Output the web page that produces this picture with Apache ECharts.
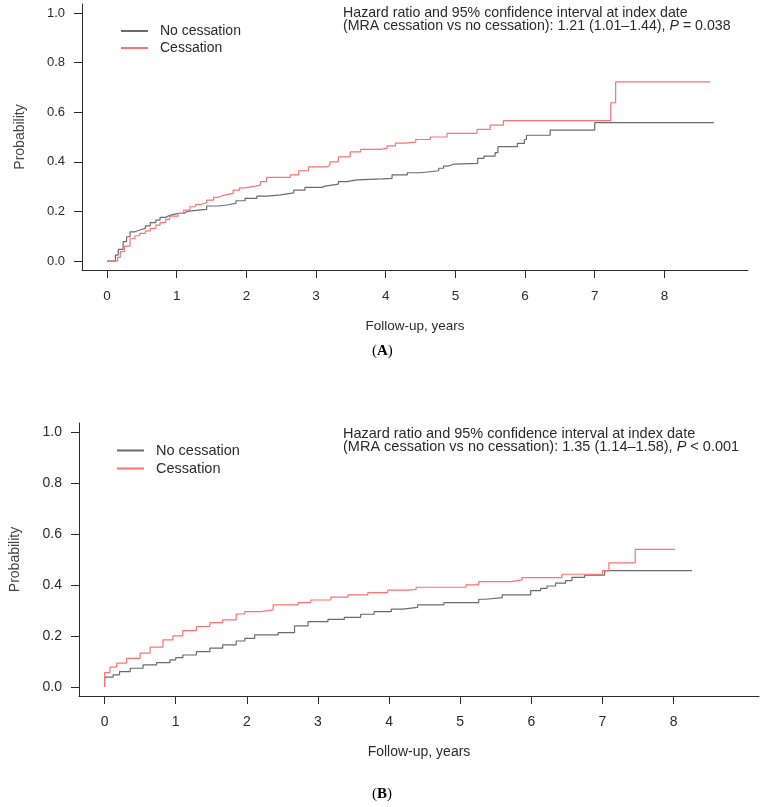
<!DOCTYPE html>
<html>
<head>
<meta charset="utf-8">
<title>MRA cessation - cumulative probability</title>
<script src="https://cdn.jsdelivr.net/npm/echarts@6.0.0/dist/echarts.min.js"></script>
<style>
    html, body { margin: 0; padding: 0; background: #fff; }
    #chart { width: 766px; height: 807px; }
</style>
</head>
<body>
<div id="chart"></div>
<script>
// ticks
var xTicks = [0, 1, 2, 3, 4, 5, 6, 7, 8]
var yTicks = [0, 0.2, 0.4, 0.6, 0.8, 1.0]
var seriesNames = ['No cessation', 'Cessation']

// (A)  [years, probability]
var noCessA = [[0,0],[0.08,0],[0.12,0.024],[0.16,0.047],[0.23,0.078],[0.28,0.098],[0.33,0.118],[0.4,0.125],[0.47,0.132],
    [0.55,0.142],[0.62,0.155],[0.7,0.165],[0.76,0.176],[0.84,0.184],[0.9,0.192],[1.02,0.192],[1.1,0.2],[1.15,0.206],
    [1.34,0.208],[1.43,0.222],[1.6,0.226],[1.72,0.233],[1.85,0.243],[1.98,0.253],[2.15,0.262],[2.3,0.267],[2.49,0.275],
    [2.68,0.286],[2.84,0.297],[3.08,0.302],[3.13,0.31],[3.32,0.32],[3.44,0.327],[3.59,0.331],[3.95,0.333],[4.09,0.347],
    [4.31,0.356],[4.5,0.364],[4.76,0.374],[4.83,0.383],[4.9,0.391],[4.98,0.394],[5.32,0.414],[5.41,0.423],[5.57,0.437],
    [5.61,0.461],[5.89,0.474],[5.99,0.49],[6.02,0.507],[6.36,0.528],[7.0,0.558],[8.71,0.558]]
var cesA = [[0,0],[0.115,0],[0.15,0.015],[0.19,0.038],[0.25,0.06],[0.33,0.09],[0.4,0.102],[0.47,0.112],[0.55,0.122],
    [0.62,0.132],[0.7,0.145],[0.76,0.155],[0.84,0.168],[0.9,0.181],[1.02,0.192],[1.1,0.205],[1.19,0.219],[1.27,0.228],
    [1.34,0.235],[1.43,0.246],[1.53,0.257],[1.6,0.265],[1.67,0.273],[1.81,0.286],[1.9,0.295],[1.98,0.302],[2.13,0.306],
    [2.2,0.32],[2.29,0.337],[2.63,0.347],[2.75,0.364],[2.89,0.38],[3.16,0.387],[3.2,0.4],[3.32,0.42],[3.49,0.44],
    [3.64,0.45],[3.92,0.454],[4.02,0.464],[4.14,0.475],[4.28,0.479],[4.43,0.49],[4.64,0.5],[4.88,0.515],[5.31,0.531],
    [5.5,0.548],[5.69,0.566],[7.23,0.638],[7.3,0.722],[8.66,0.722]]

// (B)
var noCessB = [[0,0],[0,0.038],[0.12,0.047],[0.21,0.06],[0.36,0.073],[0.54,0.086],[0.73,0.095],[0.92,0.106],[1.0,0.115],
    [1.1,0.125],[1.29,0.138],[1.48,0.152],[1.66,0.165],[1.85,0.18],[1.97,0.19],[2.11,0.204],[2.44,0.213],[2.67,0.239],
    [2.86,0.256],[3.14,0.265],[3.37,0.273],[3.6,0.285],[3.79,0.295],[4.03,0.305],[4.19,0.312],[4.4,0.322],[4.77,0.331],
    [5.26,0.344],[5.36,0.35],[5.59,0.361],[5.99,0.378],[6.13,0.387],[6.22,0.396],[6.34,0.407],[6.48,0.417],[6.57,0.43],
    [6.75,0.439],[7.03,0.456],[8.26,0.456]]
var cesB = [[0,0],[0,0.056],[0.075,0.077],[0.17,0.093],[0.31,0.112],[0.5,0.132],[0.64,0.156],[0.82,0.184],[0.96,0.2],
    [1.1,0.221],[1.29,0.237],[1.48,0.252],[1.66,0.263],[1.85,0.286],[1.97,0.295],[2.2,0.302],[2.37,0.322],[2.72,0.331],
    [2.9,0.341],[3.18,0.352],[3.42,0.361],[3.7,0.37],[3.98,0.38],[4.26,0.383],[4.38,0.391],[5.08,0.4],[5.26,0.413],
    [5.71,0.42],[5.87,0.429],[6.43,0.442],[7.0,0.456],[7.09,0.487],[7.46,0.54],[8.02,0.54]]

var FONT = "'Liberation Sans', Arial, sans-serif"
var SERIF = "'Liberation Serif', 'Times New Roman', serif"
var GRAY = '#6b6b6b'
var RED = '#ff7272'
var INK = '#2b2b2b'

function xAxisOf(i, fs) {
    return {
        type: 'value', gridIndex: i, min: -0.36, max: 9.2,
        axisLine: { show: true, onZero: false, lineStyle: { color: INK, width: 1 } },
        axisTick: { show: true, length: 8, customValues: xTicks, lineStyle: { color: INK } },
        axisLabel: { customValues: xTicks, margin: 19, color: INK, fontSize: fs, fontFamily: FONT },
        splitLine: { show: false },
        name: 'Follow-up, years', nameLocation: 'middle', nameGap: 49,
        nameTextStyle: { color: INK, fontSize: fs, fontFamily: FONT }
    }
}
function yAxisOf(i, fs, gap) {
    return {
        type: 'value', gridIndex: i, min: -0.036, max: 1.036,
        axisLine: { show: true, onZero: false, lineStyle: { color: INK, width: 1 } },
        axisTick: { show: true, length: 8, customValues: yTicks, lineStyle: { color: INK } },
        axisLabel: { customValues: yTicks, margin: 17, color: INK, fontSize: fs, fontFamily: FONT,
            formatter: function (v) { return v.toFixed(1) } },
        splitLine: { show: false },
        name: 'Probability', nameLocation: 'middle', nameGap: gap, nameRotate: 90,
        nameTextStyle: { color: '#444', fontSize: 14, fontFamily: FONT }
    }
}
function line(name, data, color, i) {
    return {
        name: name, type: 'line', xAxisIndex: i, yAxisIndex: i, data: data,
        step: 'end', symbol: 'none', silent: true,
        lineStyle: { color: color, width: 1.2 }, itemStyle: { color: color }
    }
}
function legendOf(left, top, fs) {
    return {
        left: left, top: top, orient: 'vertical', padding: 0,
        itemWidth: 27, itemHeight: 14, itemGap: 3,
        selectedMode: false, data: seriesNames,
        itemStyle: { opacity: 0 },   // 只留线，不要圆点
        textStyle: { color: INK, fontSize: fs, fontFamily: FONT, padding: [0, 0, 0, 7] }
    }
}
function hrText(left, top, fs, line2a, line2b) {
    var st = { fill: INK, fontSize: fs, fontFamily: FONT }
    return [
        { type: 'text', left: left, top: top, style: Object.assign({ text: 'Hazard ratio and 95% confidence interval at index date' }, st) },
        { type: 'text', left: left, top: top + 13.5, style: Object.assign({
            text: '{n|' + line2a + '}{i|P}{n|' + line2b + '}',
            rich: {
                n: { fill: INK, fontSize: fs, fontFamily: FONT },
                i: { fill: INK, fontSize: fs, fontFamily: FONT, fontStyle: 'italic' }
            }
        }, st) }
    ]
}
function panelTag(top, letter) {
    return {
        type: 'text', left: 372, top: top,
        style: {
            text: '{n|(}{b|' + letter + '}{n|)}',
            rich: {
                n: { fill: '#000', fontSize: 15, fontFamily: SERIF },
                b: { fill: '#000', fontSize: 15, fontFamily: SERIF, fontWeight: 'bold' }
            }
        }
    }
}

var chart = echarts.init(document.getElementById('chart'))
var option = {
    animation: false,
    backgroundColor: '#fff',
    grid: [
        { left: 82, top: 4, width: 666, height: 266 },
        { left: 77, top: 423, width: 682, height: 273 }
    ],
    xAxis: [xAxisOf(0, 13.5), xAxisOf(1, 14)],
    yAxis: [yAxisOf(0, 13, 55), yAxisOf(1, 14, 57)],
    legend: [legendOf(120, 24, 14), legendOf(116, 443, 14.5)],
    series: [
        line('No cessation', noCessA, GRAY, 0),
        line('Cessation', cesA, RED, 0),
        line('No cessation', noCessB, GRAY, 1),
        line('Cessation', cesB, RED, 1)
    ],
    graphic: [].concat(
        hrText(343, 6, 14.2, '(MRA cessation vs no cessation): 1.21 (1.01\u20131.44), ', ' = 0.038'),
        hrText(343, 426, 14.5, '(MRA cessation vs no cessation): 1.35 (1.14\u20131.58), ', ' < 0.001'),
        [panelTag(344, 'A'), panelTag(787, 'B')]
    )
}
chart.setOption(option, true)
</script>
</body>
</html>
